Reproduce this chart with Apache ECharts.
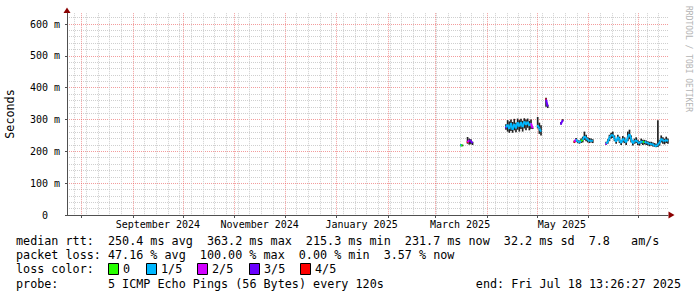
<!DOCTYPE html>
<html><head><meta charset="utf-8">
<script src="https://cdn.jsdelivr.net/npm/echarts@6/dist/echarts.min.js"></script>
<style>html,body{margin:0;padding:0;background:#fff}#c{width:697px;height:297px}</style>
</head><body><div id="c"></div>
<script>
// ---------- data ----------
const dates = [
  '2025-03-16','2025-03-17','2025-03-20','2025-03-21','2025-03-22','2025-03-23',
  '2025-04-12','2025-04-13','2025-04-14','2025-04-15','2025-04-16','2025-04-17','2025-04-18','2025-04-19',
  '2025-04-20','2025-04-21','2025-04-22','2025-04-23','2025-04-24','2025-04-25','2025-04-26','2025-04-27',
  '2025-04-28','2025-05-01','2025-05-02','2025-05-03','2025-05-06','2025-05-07',
  '2025-05-15','2025-05-16',
  '2025-05-23','2025-05-24','2025-05-25','2025-05-26','2025-05-27','2025-05-28','2025-05-29','2025-05-30',
  '2025-05-31','2025-06-01','2025-06-02','2025-06-03',
  '2025-06-11','2025-06-12','2025-06-13','2025-06-14','2025-06-15','2025-06-16','2025-06-17','2025-06-18',
  '2025-06-19','2025-06-20','2025-06-21','2025-06-22','2025-06-23','2025-06-24','2025-06-25','2025-06-26',
  '2025-06-27','2025-06-28','2025-06-29','2025-06-30',
  '2025-07-01','2025-07-02','2025-07-03','2025-07-04','2025-07-05','2025-07-06','2025-07-07','2025-07-08',
  '2025-07-09','2025-07-10','2025-07-11','2025-07-12','2025-07-13','2025-07-14','2025-07-15','2025-07-16',
  '2025-07-17','2025-07-18'
];
// median rtt (ms)
const median = [
  219,218,229,235,232,226,
  276,284,270,289,268,286,272,291,278,292,276,294,283,293,280,288,
  272,280,272,262,363,341,
  287,298,
  230,238,230,228,233,236,248,242,236,232,234,232,
  224,230,244,250,252,240,230,246,236,226,240,236,228,246,254,240,225,232,235,228,
  225,232,228,230,228,226,223,224,221,218,216,222,226,240,234,232,236,232
];
// smoke range low / high (ms)
const smokeLow = [
  216,216,224,221,222,220,
  268,262,258,264,258,266,260,268,262,270,262,272,266,274,266,270,
  270,272,255,250,340,336,
  284,294,
  226,230,226,224,226,228,236,232,228,226,228,226,
  220,224,232,240,242,232,224,234,226,220,228,226,220,232,238,228,218,224,226,220,
  218,224,220,222,220,218,216,218,215,214,213,214,218,228,224,222,226,224
];
const smokeHigh = [
  222,221,245,240,238,230,
  285,298,294,300,292,302,290,303,298,302,296,304,300,303,296,300,
  274,308,290,282,368,346,
  292,301,
  234,242,236,234,240,246,262,252,244,242,240,238,
  230,238,252,258,262,250,238,252,246,234,248,244,236,262,268,250,234,240,244,236,
  232,240,236,236,234,232,230,230,228,226,224,298,236,250,244,240,246,240
];
// loss class: 0 = 0, 1 = 1/5, 2 = 2/5, 3 = 3/5, 4 = 4/5
const lossClass = [
  1,0,4,2,3,3,
  3,1,1,1,1,1,1,1,1,1,1,1,1,1,1,1,
  2,1,1,1,4,3,
  3,3,
  4,2,1,1,1,0,1,1,1,1,1,1,
  2,1,1,1,1,1,1,1,1,1,1,1,1,1,1,1,1,1,1,1,
  1,1,1,0,1,1,1,1,1,1,1,1,1,1,1,1,1,1
];
const lossLabels = ['0','1/5','2/5','3/5','4/5'];
const lossColors = ['#26ff00','#00b8ff','#d200ff','#6a00ff','#ff0000'];
const yTicks = [0,100,200,300,400,500,600];
const monthLabels = ['September 2024','November 2024','January 2025','March 2025','May 2025'];
const monthLabelDates = ['2024-09-16','2024-11-16','2025-01-16','2025-03-16','2025-05-16'];
const statRows = [
  [['median rtt:',0],['250.4 ms avg',13],['363.2 ms max',27],['215.3 ms min',41],['231.7 ms now',55],['32.2 ms sd',69],['7.8',81],['am/s',87]],
  [['packet loss:',0],['47.16 % avg',13],['100.00 % max',26],['0.00 % min',40],['3.57 % now',52]],
  [['loss color:',0]],
  [['probe:',0],['5 ICMP Echo Pings (56 Bytes) every 120s',13]]
];
const endText = 'end: Fri Jul 18 13:26:27 2025';

// ---------- build ----------
const DAY = 864e5;
const END = Date.UTC(2025, 6, 18, 13, 26, 27);
const START = END - 360 * DAY;
const Y_MAX = 634;
const FONT = '"DejaVu Sans Mono", monospace';

const monthStarts = [];
for (let y = 2024, m = 6; ; ) {
  const t = Date.UTC(y, m, 1);
  if (t > END) break;
  if (t >= START) monthStarts.push(t);
  m++; if (m > 11) { m = 0; y++; }
}
const sundays = [];
for (let t = Date.UTC(2024, 6, 21); t <= END; t += 7 * DAY) {
  if (t >= START && monthStarts.indexOf(t) < 0) sundays.push(t);
}
const labelTimes = monthLabelDates.map(d => Date.parse(d + 'T00:00:00Z'));
const labelMap = {};
labelTimes.forEach((t, i) => { labelMap[t] = monthLabels[i]; });
const yMinor = [];
for (let v = 20; v < Y_MAX; v += 20) if (v % 100 !== 0) yMinor.push(v);

const times = dates.map(d => Date.parse(d + 'T12:00:00Z'));
const smokeData = times.map((t, i) => [t, smokeLow[i], smokeHigh[i]]);
const medData = times.map((t, i) => {
  const hasPrev = i > 0 && (t - times[i - 1]) === DAY ? 1 : 0;
  return [t, median[i], lossClass[i], hasPrev, hasPrev ? median[i - 1] : median[i]];
});

const gridDot = [1, 1];
const CW = 7.07, X0 = 16;
const rowY = [241, 255, 269, 283.5];
const graphic = [];
statRows.forEach((row, r) => row.forEach(([txt, col]) => {
  graphic.push({ type: 'text', x: X0 + col * CW, y: rowY[r],
    style: { text: txt, fill: '#000', font: '11.75px ' + FONT, verticalAlign: 'middle', align: 'left' } });
}));
graphic.push({ type: 'text', x: 681, y: rowY[3],
  style: { text: endText, fill: '#000', font: '11.75px ' + FONT, verticalAlign: 'middle', align: 'right' } });
const boxX = [108, 146, 197, 249, 300];
lossLabels.forEach((lab, i) => {
  graphic.push({ type: 'rect', shape: { x: boxX[i] + 0.5, y: 263.5, width: 10, height: 11 },
    style: { fill: lossColors[i], stroke: '#000', lineWidth: 1 } });
  graphic.push({ type: 'text', x: boxX[i] + 15, y: rowY[2],
    style: { text: lab, fill: '#000', font: '11.75px ' + FONT, verticalAlign: 'middle', align: 'left' } });
});
graphic.push({ type: 'text', x: 10, y: 114, rotation: Math.PI / 2,
  style: { text: 'Seconds', fill: '#000', font: '11.75px ' + FONT, align: 'center', verticalAlign: 'middle' } });
graphic.push({ type: 'text', x: 688, y: 59, rotation: -Math.PI / 2,
  style: { text: 'RRDTOOL / TOBI OETIKER', fill: '#b4b4b4', font: '8px ' + FONT, align: 'center', verticalAlign: 'middle' } });
// axis arrows
graphic.push({ type: 'polygon', shape: { points: [[67, 7.5], [63.5, 13], [70.5, 13]] }, style: { fill: '#8b0000' } });
graphic.push({ type: 'polygon', shape: { points: [[674.5, 215], [668.5, 211.5], [668.5, 218.5]] }, style: { fill: '#8b0000' } });

const chart = echarts.init(document.getElementById('c'), null, { renderer: 'svg' });
chart.setOption({
  animation: false,
  backgroundColor: '#fff',
  grid: { left: 67, right: 29, top: 215 - Y_MAX * 191 / 600, bottom: 82, containLabel: false, outerBoundsMode: 'none' },
  xAxis: [
    { type: 'value', min: START, max: END, position: 'bottom', scale: true,
      axisLine: { show: false }, axisTick: { show: false, customValues: sundays }, axisLabel: { show: false },
      splitLine: { show: true, lineStyle: { color: '#cfcfcf', type: gridDot, width: 1 } } },
    { type: 'value', min: START, max: END, position: 'bottom', scale: true,
      axisLine: { show: true, onZero: false, lineStyle: { color: '#505050', width: 1 } },
      axisTick: { show: true, customValues: monthStarts, length: 3, lineStyle: { color: '#505050' } },
      axisLabel: { show: true, customValues: labelTimes, formatter: v => labelMap[v] || '',
        color: '#000', fontFamily: FONT, fontSize: 10, margin: 4 },
      splitLine: { show: true, lineStyle: { color: 'rgba(235,90,90,0.6)', type: gridDot, width: 1 } } }
  ],
  yAxis: [
    { type: 'value', min: 0, max: Y_MAX, position: 'left',
      axisLine: { show: false }, axisTick: { show: false, customValues: yMinor }, axisLabel: { show: false },
      splitLine: { show: true, lineStyle: { color: '#cfcfcf', type: gridDot, width: 1 } } },
    { type: 'value', min: 0, max: Y_MAX, position: 'left',
      axisLine: { show: true, onZero: false, lineStyle: { color: '#505050', width: 1 } },
      axisTick: { show: true, customValues: yTicks, length: 2, lineStyle: { color: '#505050' } },
      axisLabel: { show: true, customValues: yTicks, color: '#000', fontFamily: FONT, fontSize: 10, margin: 7,
        formatter: v => v === 0 ? '{z|0}' : v + ' m',
        rich: { z: { padding: [0, 12, 0, 0], fontFamily: FONT, fontSize: 10, color: '#000' } } },
      splitLine: { show: true, lineStyle: { color: 'rgba(235,90,90,0.6)', type: gridDot, width: 1 } } }
  ],
  series: [
    { type: 'custom', name: 'smoke', xAxisIndex: 1, yAxisIndex: 1, data: smokeData, silent: true,
      renderItem: (params, api) => {
        const t = api.value(0);
        const a = api.coord([t, api.value(2)]), b = api.coord([t, api.value(1)]);
        const w = Math.max(1, api.size([DAY, 0])[0]);
        return { type: 'rect', shape: { x: a[0] - w / 2, y: a[1], width: w, height: Math.max(1, b[1] - a[1]) },
          style: { fill: '#222222' } };
      } },
    { type: 'custom', name: 'median', xAxisIndex: 1, yAxisIndex: 1, data: medData, silent: true,
      renderItem: (params, api) => {
        const t = api.value(0), med = api.value(1), cls = api.value(2), hasPrev = api.value(3), pm = api.value(4);
        const m = api.coord([t, med]);
        const w = api.size([DAY, 0])[0];
        let pts;
        if (hasPrev) pts = [api.coord([t - DAY, pm]), m];
        else pts = [[m[0] - w / 2, m[1]], [m[0] + w / 2, m[1]]];
        return { type: 'polyline', shape: { points: pts },
          style: { stroke: lossColors[cls], lineWidth: 2, fill: null } };
      } }
  ],
  graphic: graphic
});
</script>
</body></html>
